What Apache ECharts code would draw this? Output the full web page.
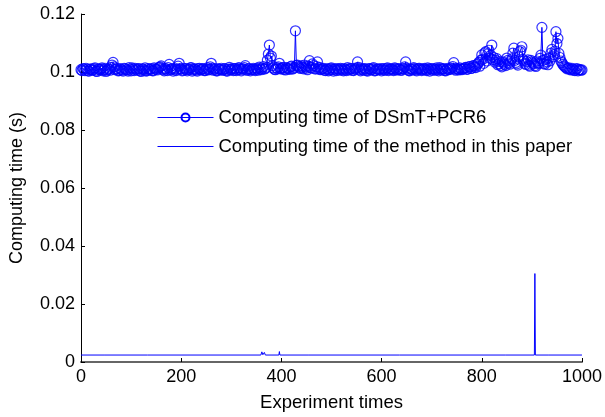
<!DOCTYPE html>
<html>
<head>
<meta charset="utf-8">
<script src="https://cdn.jsdelivr.net/npm/echarts@6/dist/echarts.min.js"></script>
<style>
  html, body { margin: 0; padding: 0; background: #fff; }
  #chart { width: 605px; height: 417px; }
</style>
</head>
<body>
<div id="chart"></div>
<script>
// x axis ticks and y axis ticks
const xTicks = [0, 200, 400, 600, 800, 1000];
const yTicks = [0, 0.02, 0.04, 0.06, 0.08, 0.1, 0.12];

// DSmT+PCR6 computing time, experiments 0, 4, 8, ... 1000
const dsmtStep = 4;
const dsmtTime = [
  0.1008, 0.1012, 0.1005, 0.1010, 0.1003, 0.1011, 0.1007, 0.1014, 0.1002, 0.1009,
  0.1011, 0.1004, 0.1013, 0.1006, 0.1010, 0.1016, 0.1033, 0.1008, 0.1012, 0.1005,
  0.1009, 0.1003, 0.1012, 0.1007, 0.1015, 0.1004, 0.1010, 0.1013, 0.1006, 0.1011,
  0.1002, 0.1010, 0.1014, 0.1005, 0.1009, 0.1012, 0.1004, 0.1011, 0.1007, 0.1016,
  0.1021, 0.1008, 0.1012, 0.1005, 0.1026, 0.1010, 0.1003, 0.1013, 0.1009, 0.1030,
  0.1011, 0.1006, 0.1012, 0.1004, 0.1009, 0.1015, 0.1007, 0.1010, 0.1003, 0.1013,
  0.1008, 0.1011, 0.1005, 0.1014, 0.1009, 0.1030, 0.1006, 0.1012, 0.1004, 0.1010,
  0.1013, 0.1007, 0.1011, 0.1003, 0.1016, 0.1009, 0.1005, 0.1012, 0.1008, 0.1014,
  0.1004, 0.1010, 0.1022, 0.1006, 0.1011, 0.1008, 0.1013, 0.1005, 0.1010, 0.1017,
  0.1008, 0.1019, 0.1012, 0.1041, 0.1093, 0.1055, 0.1014, 0.1008, 0.1011, 0.1030,
  0.1010, 0.1016, 0.1007, 0.1013, 0.1009, 0.1020, 0.1012, 0.1142, 0.1024, 0.1015,
  0.1021, 0.1011, 0.1018, 0.1008, 0.1039, 0.1014, 0.1022, 0.1010, 0.1035, 0.1016,
  0.1009, 0.1013, 0.1005, 0.1011, 0.1007, 0.1014, 0.1003, 0.1010, 0.1012, 0.1006,
  0.1011, 0.1004, 0.1009, 0.1015, 0.1007, 0.1012, 0.1005, 0.1010, 0.1035, 0.1008,
  0.1013, 0.1006, 0.1010, 0.1003, 0.1012, 0.1008, 0.1015, 0.1005, 0.1011, 0.1009,
  0.1004, 0.1012, 0.1007, 0.1014, 0.1009, 0.1011, 0.1005, 0.1013, 0.1008, 0.1010,
  0.1006, 0.1012, 0.1035, 0.1009, 0.1004, 0.1011, 0.1015, 0.1007, 0.1010, 0.1013,
  0.1005, 0.1011, 0.1008, 0.1014, 0.1003, 0.1010, 0.1012, 0.1006, 0.1009, 0.1015,
  0.1007, 0.1011, 0.1004, 0.1013, 0.1009, 0.1012, 0.1032, 0.1006, 0.1010, 0.1014,
  0.1008, 0.1012, 0.1016, 0.1010, 0.1019, 0.1013, 0.1022, 0.1015, 0.1028, 0.1020,
  0.1059, 0.1030, 0.1070, 0.1062, 0.1048, 0.1093, 0.1050, 0.1040, 0.1025, 0.1036,
  0.1018, 0.1031, 0.1022, 0.1040, 0.1027, 0.1045, 0.1082, 0.1033, 0.1024, 0.1070,
  0.1087, 0.1038, 0.1026, 0.1042, 0.1020, 0.1035, 0.1028, 0.1019, 0.1032, 0.1047,
  0.1154, 0.1030, 0.1044, 0.1025, 0.1038, 0.1078, 0.1060, 0.1139, 0.1116, 0.1050,
  0.1032, 0.1021, 0.1015, 0.1012, 0.1009, 0.1013, 0.1006, 0.1010, 0.1004, 0.1008,
  0.1007
];

// DSmT+PCR6 computing time, experiments in between: 2, 6, 10, ... 998
const dsmtTimeMid = [
  0.1005, 0.1010, 0.1013, 0.1004, 0.1009, 0.1006, 0.1012, 0.1003, 0.1011, 0.1007,
  0.1014, 0.1008, 0.1002, 0.1011, 0.1006, 0.1024, 0.1018, 0.1010, 0.1004, 0.1012,
  0.1006, 0.1013, 0.1008, 0.1003, 0.1010, 0.1014, 0.1005, 0.1009, 0.1012, 0.1004,
  0.1011, 0.1006, 0.1003, 0.1012, 0.1008, 0.1005, 0.1014, 0.1009, 0.1013, 0.1018,
  0.1012, 0.1004, 0.1010, 0.1015, 0.1007, 0.1012, 0.1009, 0.1005, 0.1020, 0.1011,
  0.1004, 0.1013, 0.1008, 0.1010, 0.1014, 0.1003, 0.1011, 0.1006, 0.1012, 0.1007,
  0.1012, 0.1005, 0.1010, 0.1007, 0.1018, 0.1013, 0.1009, 0.1004, 0.1011, 0.1008,
  0.1006, 0.1012, 0.1004, 0.1010, 0.1007, 0.1013, 0.1011, 0.1005, 0.1014, 0.1009,
  0.1011, 0.1015, 0.1007, 0.1012, 0.1004, 0.1010, 0.1008, 0.1013, 0.1006, 0.1011,
  0.1013, 0.1010, 0.1016, 0.1062, 0.1048, 0.1022, 0.1009, 0.1015, 0.1018, 0.1012,
  0.1014, 0.1009, 0.1015, 0.1011, 0.1018, 0.1010, 0.1016, 0.1023, 0.1019, 0.1012,
  0.1016, 0.1024, 0.1013, 0.1020, 0.1015, 0.1028, 0.1012, 0.1019, 0.1011, 0.1008,
  0.1012, 0.1006, 0.1010, 0.1004, 0.1013, 0.1008, 0.1011, 0.1005, 0.1009, 0.1013,
  0.1007, 0.1012, 0.1005, 0.1010, 0.1013, 0.1006, 0.1011, 0.1014, 0.1016, 0.1004,
  0.1009, 0.1012, 0.1005, 0.1011, 0.1007, 0.1013, 0.1004, 0.1010, 0.1008, 0.1012,
  0.1010, 0.1006, 0.1013, 0.1005, 0.1011, 0.1008, 0.1014, 0.1007, 0.1012, 0.1006,
  0.1011, 0.1018, 0.1013, 0.1005, 0.1010, 0.1007, 0.1012, 0.1004, 0.1013, 0.1009,
  0.1008, 0.1013, 0.1005, 0.1010, 0.1012, 0.1006, 0.1009, 0.1014, 0.1004, 0.1011,
  0.1012, 0.1005, 0.1010, 0.1008, 0.1014, 0.1019, 0.1010, 0.1013, 0.1007, 0.1011,
  0.1010, 0.1014, 0.1009, 0.1018, 0.1012, 0.1021, 0.1017, 0.1025, 0.1033, 0.1041,
  0.1044, 0.1066, 0.1038, 0.1075, 0.1058, 0.1042, 0.1034, 0.1046, 0.1029, 0.1022,
  0.1035, 0.1026, 0.1048, 0.1031, 0.1038, 0.1065, 0.1040, 0.1028, 0.1052, 0.1075,
  0.1044, 0.1030, 0.1036, 0.1024, 0.1040, 0.1031, 0.1022, 0.1038, 0.1029, 0.1058,
  0.1040, 0.1027, 0.1035, 0.1048, 0.1065, 0.1052, 0.1072, 0.1098, 0.1064, 0.1038,
  0.1026, 0.1018, 0.1011, 0.1014, 0.1007, 0.1010, 0.1005, 0.1012, 0.1008, 0.1006
];

// proposed method computing time: [experiment, seconds]
const paperTime = [
  [0, 0.0024], [46, 0.0024], [47, 0.0019], [48, 0.0024],
  [133, 0.0024], [134, 0.0018], [135, 0.0024],
  [359, 0.0024], [361, 0.0035], [363, 0.0025], [366, 0.0033], [368, 0.0024],
  [395, 0.0024], [396, 0.0036], [397, 0.0024],
  [455, 0.0024], [456, 0.0028], [457, 0.0024],
  [513, 0.0024], [514, 0.0018], [515, 0.0024],
  [636, 0.0024], [637, 0.0030], [638, 0.0024],
  [848, 0.0024], [849, 0.0018], [850, 0.0024],
  [905, 0.0024], [906, 0.0305], [907, 0.0024],
  [934, 0.0024], [935, 0.0018], [936, 0.0024],
  [1000, 0.0024]
];

const FONT = "Liberation Sans";
const BLUE = "#0000ff";
const NAME_A = "Computing time of DSmT+PCR6";
const NAME_B = "Computing time of the method in this paper";

// merge both readings of the DSmT+PCR6 series in experiment order
const dsmtPoints = [];
dsmtTime.forEach((v, i) => {
  dsmtPoints.push([i * dsmtStep, v]);
  if (i < dsmtTimeMid.length) dsmtPoints.push([i * dsmtStep + dsmtStep / 2, dsmtTimeMid[i]]);
});

const chart = echarts.init(document.getElementById("chart"));

chart.setOption({
  animation: false,
  textStyle: { fontFamily: FONT },
  grid: { left: 80, right: 23, top: 14, bottom: 55, containLabel: false },
  legend: {
    orient: "vertical",
    left: 152,
    top: 103,
    itemWidth: 56,
    itemHeight: 10,
    itemGap: 10,
    lineStyle: { width: 1 },
    textStyle: { fontFamily: FONT, fontSize: 18.5, color: "#000" },
    data: [NAME_A, NAME_B]
  },
  xAxis: {
    type: "value",
    min: xTicks[0],
    max: xTicks[xTicks.length - 1],
    interval: xTicks[1] - xTicks[0],
    name: "Experiment times",
    nameLocation: "middle",
    nameGap: 31,
    nameTextStyle: { fontSize: 18.5, color: "#000" },
    axisLine: { lineStyle: { color: "#666", width: 2 } },
    axisTick: { inside: true, length: 4, lineStyle: { color: "#000" } },
    axisLabel: { fontSize: 18, color: "#000", margin: 6, formatter: v => String(v) },
    splitLine: { show: false }
  },
  yAxis: {
    type: "value",
    min: yTicks[0],
    max: yTicks[yTicks.length - 1],
    interval: 0.02,
    name: "Computing time (s)",
    nameLocation: "middle",
    nameGap: 55,
    nameTextStyle: { fontSize: 18, color: "#000" },
    axisLine: { show: true, lineStyle: { color: "#000", width: 1 } },
    axisTick: { show: true, inside: true, length: 4, lineStyle: { color: "#000" } },
    axisLabel: { fontSize: 18, color: "#000", margin: 6 },
    splitLine: { show: false }
  },
  series: [
    {
      name: NAME_A,
      type: "line",
      data: dsmtPoints,
      symbol: "circle",
      symbolSize: 10,
      showSymbol: false,
      itemStyle: { color: "none", borderColor: BLUE, borderWidth: 1 },
      lineStyle: { color: BLUE, width: 1 },
      z: 3
    },
    {
      // every marker of the DSmT+PCR6 series
      name: "dsmtMarkers",
      type: "scatter",
      data: dsmtPoints,
      symbol: "circle",
      symbolSize: 10,
      itemStyle: { color: "none", borderColor: BLUE, borderWidth: 1.2 },
      z: 4
    },
    {
      name: NAME_B,
      type: "line",
      data: paperTime,
      symbol: "circle",
      showSymbol: false,
      itemStyle: { color: "none", borderColor: "none", borderWidth: 0 },
      lineStyle: { color: BLUE, width: 1 },
      z: 2
    }
  ]
});
</script>
</body>
</html>
